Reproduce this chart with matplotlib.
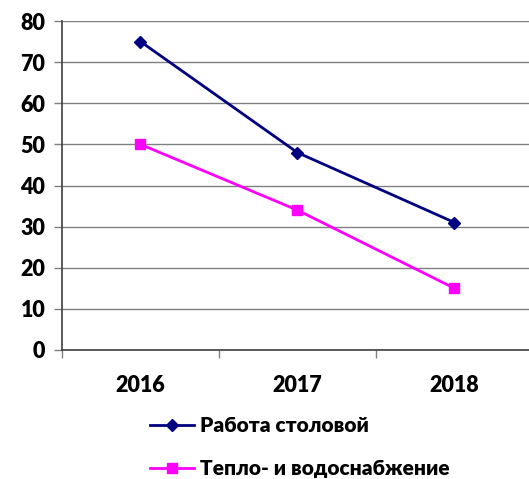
import matplotlib
matplotlib.use("Agg")
import matplotlib.pyplot as plt
from matplotlib.lines import Line2D

years = ["2016", "2017", "2018"]
canteen = [75, 48, 31]
heat_water = [50, 34, 15]
labels = ["Работа столовой", "Тепло- и водоснабжение"]
yticks = [0, 10, 20, 30, 40, 50, 60, 70, 80]

plt.rcParams['font.family'] = ['Lato', 'DejaVu Sans']

fig = plt.figure(figsize=(5.29, 4.79), dpi=100)
ax = fig.add_axes([62/529, 129/479, 471/529, 329/479])

x = list(range(len(years)))
ax.plot(x, canteen, color='#000080', marker='D', markersize=6.5, linewidth=2, label=labels[0])
ax.plot(x, heat_water, color='#FF00FF', marker='s', markersize=7.5, linewidth=2, label=labels[1])

ax.set_xlim(-0.5, 2.5)
ax.set_ylim(0, 80)
ax.set_yticks(yticks)
ax.set_yticklabels([str(v) for v in yticks], fontsize=15.5, fontweight='heavy')
ax.set_xticks([-0.5, 0.5, 1.5, 2.5])
ax.set_xticklabels([])
ax.set_xticks(x, minor=True)
ax.set_xticklabels(years, minor=True, fontsize=15.5, fontweight='heavy')
ax.tick_params(axis='x', which='minor', length=0, pad=18)
ax.tick_params(axis='x', which='major', length=6, width=1, color='#808080', direction='out')
ax.tick_params(axis='y', length=6, width=1, color='#808080', pad=6)

ax.grid(axis='y', color='#808080', linewidth=1)
ax.set_axisbelow(True)
for s in ['top', 'right']:
    ax.spines[s].set_visible(False)
ax.spines['left'].set_color('#404040')
ax.spines['bottom'].set_color('#404040')
ax.spines['left'].set_linewidth(1.2)
ax.spines['bottom'].set_linewidth(1.2)

handles = [
    Line2D([], [], color='#000080', marker='D', markersize=6, linewidth=2),
    Line2D([], [], color='#FF00FF', marker='s', markersize=7, linewidth=2),
]
fig.legend(handles, labels, loc='center', bbox_to_anchor=(0.567, (479-447)/479),
           frameon=False, prop={'size': 15, 'weight': 'heavy'},
           handlelength=2.1, handletextpad=0.3, labelspacing=1.15,
           alignment='left')

fig.savefig("out.png", dpi=100)
